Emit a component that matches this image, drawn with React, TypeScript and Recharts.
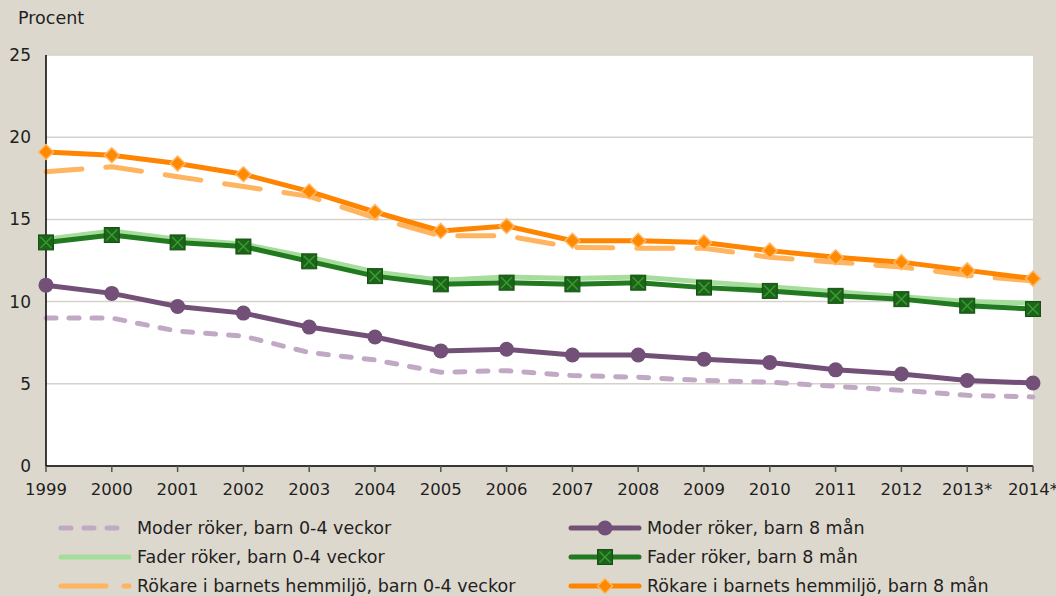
import React from "react";
import { LineChart, Line, XAxis, YAxis, CartesianGrid } from "recharts";

const years = ["1999", "2000", "2001", "2002", "2003", "2004", "2005", "2006", "2007", "2008", "2009", "2010", "2011", "2012", "2013*", "2014*"];
const moder04 = [9.0, 9.0, 8.2, 7.9, 6.9, 6.45, 5.7, 5.8, 5.5, 5.4, 5.2, 5.1, 4.85, 4.6, 4.3, 4.2];
const moder8 = [11.0, 10.5, 9.7, 9.3, 8.45, 7.85, 7.0, 7.1, 6.75, 6.75, 6.5, 6.3, 5.85, 5.6, 5.2, 5.05];
const fader04 = [13.8, 14.3, 13.8, 13.5, 12.7, 11.8, 11.3, 11.5, 11.4, 11.5, 11.2, 10.9, 10.6, 10.3, 10.0, 9.9];
const fader8 = [13.6, 14.05, 13.6, 13.35, 12.45, 11.55, 11.05, 11.15, 11.05, 11.15, 10.85, 10.65, 10.35, 10.15, 9.75, 9.55];
const rok04 = [17.9, 18.2, 17.6, 17.0, 16.4, 15.1, 14.0, 14.0, 13.3, 13.25, 13.25, 12.7, 12.4, 12.1, 11.6, 11.25];
const rok8 = [19.1, 18.9, 18.4, 17.75, 16.7, 15.45, 14.3, 14.6, 13.7, 13.7, 13.6, 13.1, 12.7, 12.4, 11.9, 11.4];
const yTicks = [0, 5, 10, 15, 20, 25];

const data = years.map((y, i) => ({
  year: y,
  moder04: moder04[i],
  moder8: moder8[i],
  fader04: fader04[i],
  fader8: fader8[i],
  rok04: rok04[i],
  rok8: rok8[i],
}));

const BG = "#DDD8CE";
const FONT = "'DejaVu Sans', 'Open Sans', sans-serif";
const TEXT = "#1f1f1f";
const C = {
  moder04: "#C1A9C6",
  moder8: "#735077",
  fader04: "#A7DD9C",
  fader8: "#217A1F",
  rok04: "#FFB45F",
  rok8: "#FF8500",
};

const CircleDot = (props: any) => {
  const { cx, cy } = props;
  if (cx == null || cy == null) return null;
  return <circle cx={cx} cy={cy} r={7.5} fill={C.moder8} />;
};

const SquareDot = (props: any) => {
  const { cx, cy } = props;
  if (cx == null || cy == null) return null;
  const s = 7.5;
  return (
    <g>
      <rect x={cx - s} y={cy - s} width={2 * s} height={2 * s} fill="#1B6418" stroke="#155212" strokeWidth={1} />
      <line x1={cx - s + 2} y1={cy - s + 2} x2={cx + s - 2} y2={cy + s - 2} stroke="#3A9A33" strokeWidth={1.5} />
      <line x1={cx + s - 2} y1={cy - s + 2} x2={cx - s + 2} y2={cy + s - 2} stroke="#3A9A33" strokeWidth={1.5} />
    </g>
  );
};

const DiamondDot = (props: any) => {
  const { cx, cy } = props;
  if (cx == null || cy == null) return null;
  const s = 7.5;
  return (
    <polygon
      points={`${cx},${cy - s} ${cx + s},${cy} ${cx},${cy + s} ${cx - s},${cy}`}
      fill="#FF8A00"
      stroke="#FFB868"
      strokeWidth={1.5}
    />
  );
};

const legendItems = [
  { key: "moder04", label: "Moder röker, barn 0-4 veckor", color: C.moder04, dash: "10 13", marker: null },
  { key: "moder8", label: "Moder röker, barn 8 mån", color: C.moder8, dash: undefined, marker: "circle" },
  { key: "fader04", label: "Fader röker, barn 0-4 veckor", color: C.fader04, dash: undefined, marker: null },
  { key: "fader8", label: "Fader röker, barn 8 mån", color: C.fader8, dash: undefined, marker: "square" },
  { key: "rok04", label: "Rökare i barnets hemmiljö, barn 0-4 veckor", color: C.rok04, dash: "45 18", marker: null },
  { key: "rok8", label: "Rökare i barnets hemmiljö, barn 8 mån", color: C.rok8, dash: undefined, marker: "diamond" },
];

const LegendIcon = ({ item }: { item: any }) => (
  <svg width={74} height={16} style={{ display: "block" }}>
    <line x1={3} y1={8} x2={71} y2={8} stroke={item.color} strokeWidth={5} strokeLinecap="round" strokeDasharray={item.dash} />
    {item.marker === "circle" && <CircleDot cx={37} cy={8} />}
    {item.marker === "square" && <SquareDot cx={37} cy={8} />}
    {item.marker === "diamond" && <DiamondDot cx={37} cy={8} />}
  </svg>
);

const LegendBlock = () => {
  const rows = [528, 557, 586];
  return (
    <div style={{ position: "absolute", left: 0, top: 0, width: 1056, height: 596, pointerEvents: "none" }}>
      {legendItems.map((item, i) => {
        const col = i % 2;
        const row = Math.floor(i / 2);
        const left = col === 0 ? 58 : 568;
        return (
          <div
            key={item.key}
            style={{
              position: "absolute",
              left,
              top: rows[row] - 11,
              height: 22,
              display: "flex",
              alignItems: "center",
              fontFamily: FONT,
              fontSize: 17.5,
              color: TEXT,
              whiteSpace: "nowrap",
            }}
          >
            <LegendIcon item={item} />
            <span style={{ marginLeft: 5 }}>{item.label}</span>
          </div>
        );
      })}
    </div>
  );
};

export default function App() {
  return (
    <div style={{ position: "absolute", left: 0, top: 0, width: 1056, height: 596, background: BG, overflow: "hidden" }}>
      <div style={{ position: "absolute", left: 18, top: 8, fontFamily: FONT, fontSize: 17.5, color: TEXT }}>Procent</div>
      <LineChart
        width={1056}
        height={596}
        data={data}
        margin={{ top: 55, right: 23, left: 0, bottom: 100 }}
      >
        <CartesianGrid vertical={false} stroke="#D6D2C9" strokeWidth={1.5} fill="#FFFFFF" />
        <XAxis
          dataKey="year"
          stroke="#000"
          strokeWidth={1.5}
          tickSize={6}
          tickMargin={11}
          interval={0}
          height={30}
          tick={{ fill: TEXT, fontSize: 16.5, fontFamily: FONT }}
          tickLine={{ stroke: "#555" }}
        />
        <XAxis xAxisId="top" dataKey="year" orientation="top" height={0} tick={false} tickLine={false} stroke="#000" strokeWidth={1.5} />
        <YAxis
          domain={[0, 25]}
          ticks={yTicks}
          width={46}
          tickSize={0}
          tickMargin={15}
          stroke="#000"
          strokeWidth={1.5}
          tick={{ fill: TEXT, fontSize: 17, fontFamily: FONT }}
        />
        <YAxis yAxisId="right" orientation="right" width={0} tick={false} tickLine={false} stroke="#000" strokeWidth={1.5} domain={[0, 25]} />
        <Line dataKey="moder04" stroke={C.moder04} strokeWidth={5} strokeDasharray="10 13" strokeLinecap="round" dot={false} isAnimationActive={false} type="linear" />
        <Line dataKey="moder8" stroke={C.moder8} strokeWidth={5} dot={<CircleDot />} isAnimationActive={false} type="linear" />
        <Line dataKey="fader04" stroke={C.fader04} strokeWidth={5} dot={false} isAnimationActive={false} type="linear" />
        <Line dataKey="fader8" stroke={C.fader8} strokeWidth={5} dot={<SquareDot />} isAnimationActive={false} type="linear" />
        <Line dataKey="rok04" stroke={C.rok04} strokeWidth={5} strokeDasharray="36 24" strokeLinecap="round" dot={false} isAnimationActive={false} type="linear" />
        <Line dataKey="rok8" stroke={C.rok8} strokeWidth={5} dot={<DiamondDot />} isAnimationActive={false} type="linear" />
      </LineChart>
      <LegendBlock />
    </div>
  );
}
